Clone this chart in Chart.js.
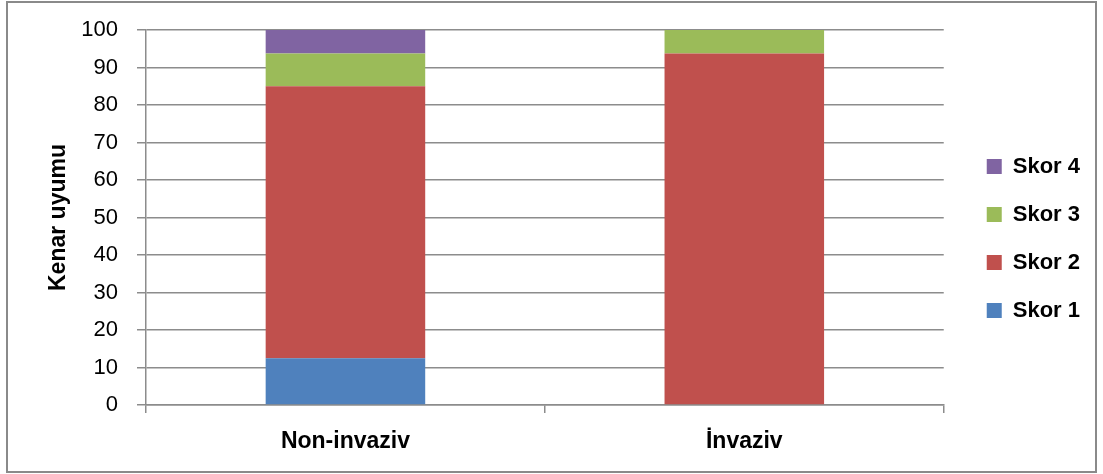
<!DOCTYPE html>
<html>
<head>
<meta charset="utf-8">
<script src="https://cdn.jsdelivr.net/npm/chart.js@4/dist/chart.umd.min.js"></script>
<style>
  html, body { margin: 0; padding: 0; background: #fff; }
  #frame {
    position: absolute; left: 6px; top: 1px;
    width: 1091px; height: 472px; box-sizing: border-box;
    border: 2px solid #8a8a8a;
  }
  #chart { display: block; }
</style>
</head>
<body>
<div id="frame"><canvas id="chart" width="1087" height="468"></canvas></div>
<script>
// Chart data
const categories = ['Non-invaziv', 'İnvaziv'];
const skor1 = [12.5, 0];
const skor2 = [72.5, 93.75];
const skor3 = [8.75, 6.25];
const skor4 = [6.25, 0];
const yTicks = [0, 10, 20, 30, 40, 50, 60, 70, 80, 90, 100];

const gridColor = '#8c8c8c';
const fontFamily = "'Liberation Sans', Arial, sans-serif";

// nudge the legend so it sits where the original had it
const legendShift = {
    id: 'legendShift',
    afterLayout: function(chart) {
        const l = chart.legend;
        if (!l) return;
        l.left += 17; l.right += 17;
        l.top -= 12; l.bottom -= 12;
    }
};

document.addEventListener('DOMContentLoaded', function() {
    const ctx = document.getElementById('chart');
    new Chart(ctx, {
        type: 'bar',
        data: {
            labels: categories,
            datasets: [
                { label: 'Skor 1', data: skor1, backgroundColor: '#4F81BD' },
                { label: 'Skor 2', data: skor2, backgroundColor: '#C0504D' },
                { label: 'Skor 3', data: skor3, backgroundColor: '#9BBB59' },
                { label: 'Skor 4', data: skor4, backgroundColor: '#8064A2' }
            ]
        },
        options: {
            responsive: false,
            animation: false,
            layout: { padding: { top: 27, right: 22, bottom: 0, left: 0 } },
            datasets: { bar: { categoryPercentage: 1, barPercentage: 0.4 } },
            scales: {
                x: {
                    stacked: true,
                    afterFit: function(s) { s.height = 66; },
                    grid: { offset: true, drawOnChartArea: false, tickLength: 8, color: gridColor, lineWidth: 1.5 },
                    border: { color: gridColor, width: 1.5 },
                    ticks: { padding: 15, color: '#000', font: { family: fontFamily, size: 23, weight: 'bold' } }
                },
                y: {
                    stacked: true,
                    min: 0,
                    max: 100,
                    afterFit: function(s) {
                        s.width = 138;
                        // label padding shouldn't push the plot area down
                        s.paddingTop = 0;
                        s.paddingBottom = 0;
                    },
                    afterBuildTicks: function(s) { s.ticks = yTicks.map(v => ({ value: v })); },
                    grid: { color: gridColor, lineWidth: 1.5, tickLength: 9 },
                    border: { color: gridColor, width: 1.5 },
                    ticks: { padding: 19, color: '#000', font: { family: fontFamily, size: 22 } },
                    title: {
                        display: true,
                        text: 'Kenar uyumu',
                        color: '#000',
                        padding: { top: 37, bottom: 0 },
                        font: { family: fontFamily, size: 23, weight: 'bold' }
                    }
                }
            },
            plugins: {
                legend: {
                    position: 'right',
                    reverse: true,
                    labels: {
                        boxWidth: 15,
                        boxHeight: 15,
                        padding: 26,
                        color: '#000',
                        font: { family: fontFamily, size: 22, weight: 'bold' }
                    }
                },
                tooltip: { enabled: false }
            }
        },
        plugins: [legendShift]
    });
});
</script>
</body>
</html>
